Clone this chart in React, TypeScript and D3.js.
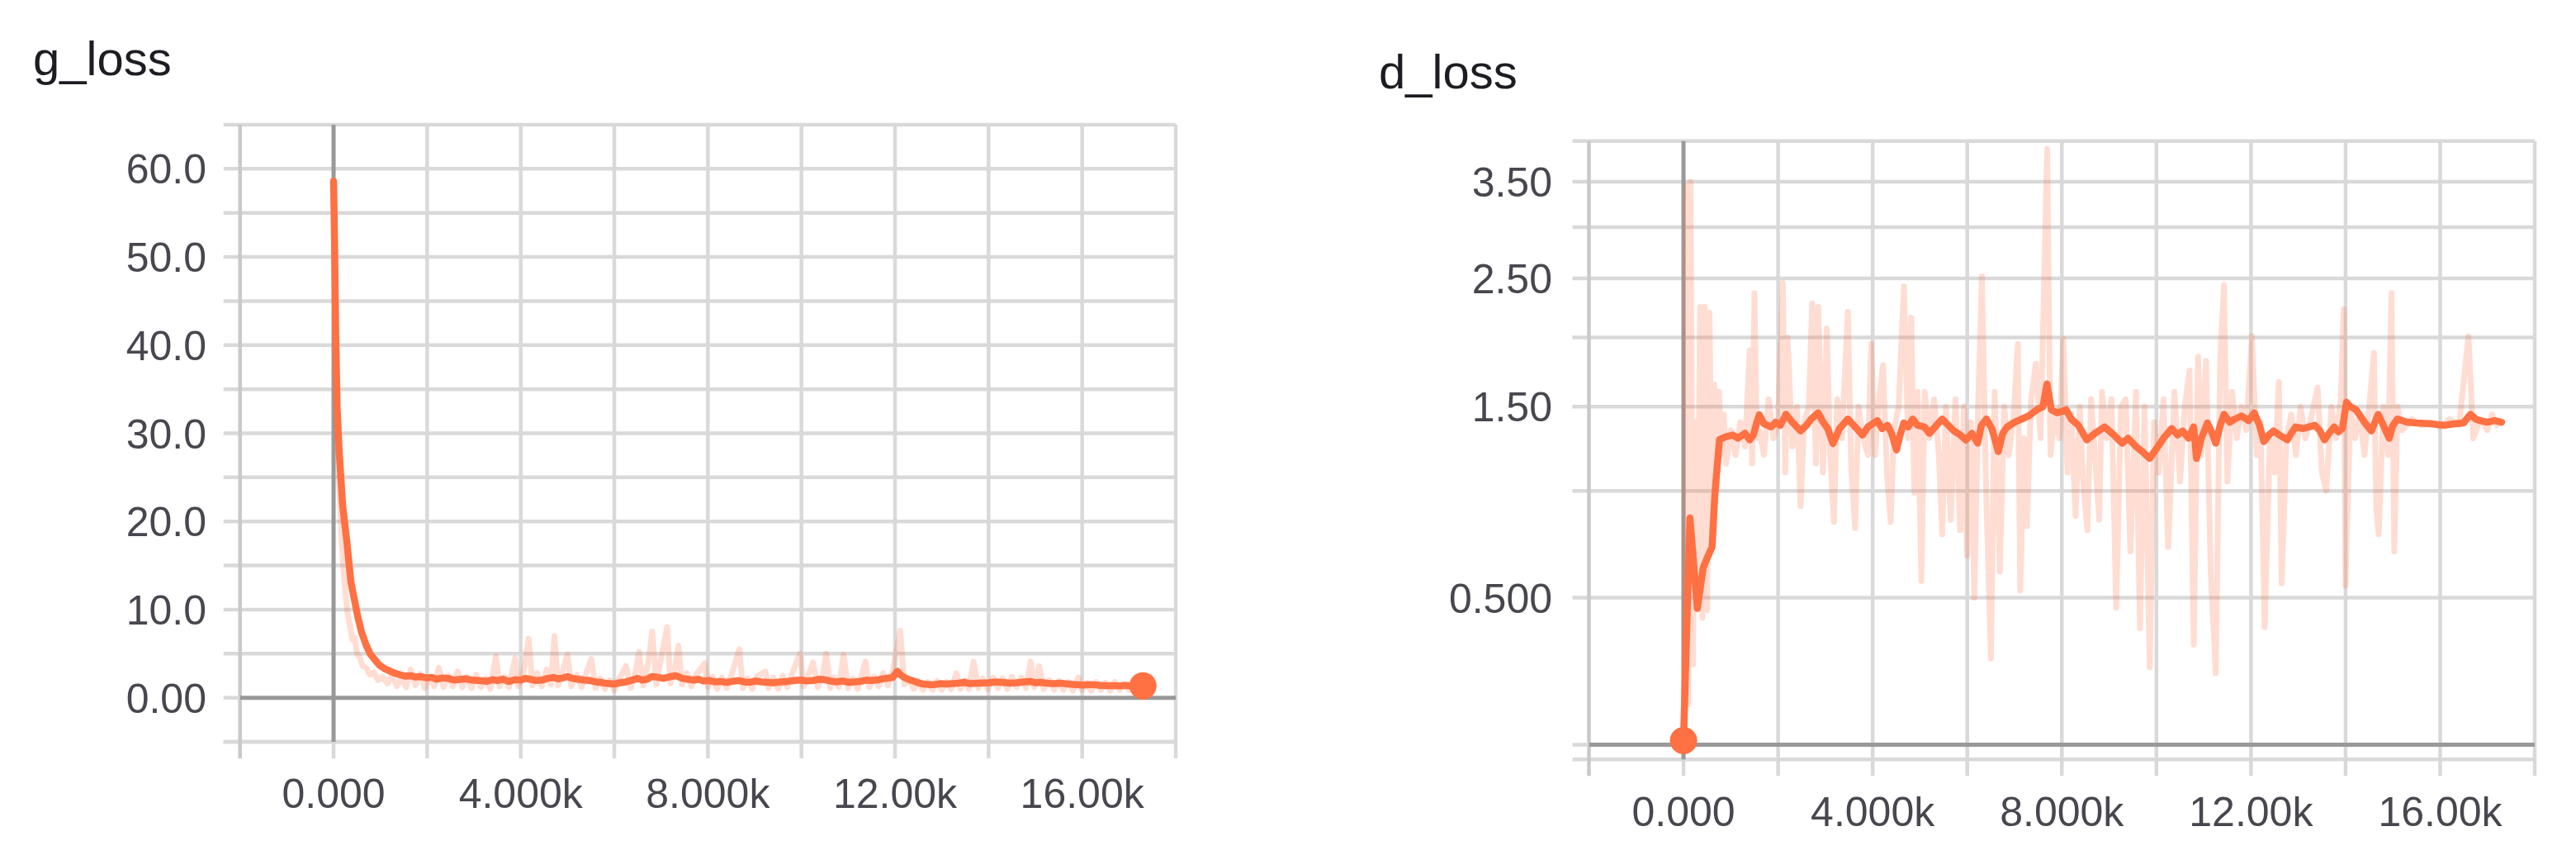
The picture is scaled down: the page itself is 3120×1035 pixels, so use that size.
import React from "react";
import * as d3 from "d3";

// ---------- data ----------
const xGridSteps = [-2000, 0, 2000, 4000, 6000, 8000, 10000, 12000, 14000, 16000, 18000];
const xLabelSteps = [0, 4000, 8000, 12000, 16000];
const xLabelTexts = ["0.000", "4.000k", "8.000k", "12.00k", "16.00k"];

const gGridValues = [-5, 0, 5, 10, 15, 20, 25, 30, 35, 40, 45, 50, 55, 60, 65];
const gLabelValues = [0, 10, 20, 30, 40, 50, 60];
const gLabelTexts = ["0.00", "10.0", "20.0", "30.0", "40.0", "50.0", "60.0"];

const dGridValues = [0, 0.5, 1, 1.5, 2, 2.5, 3, 3.5, 4];
const dLabelValues = [0.5, 1.5, 2.5, 3.5];
const dLabelTexts = ["0.500", "1.50", "2.50", "3.50"];

const gLossSmoothed: [number, number][] = [
  [0, 58.6], [20, 52], [47, 40.7], [77, 32.8], [118, 28.1], [194, 21.8], [282, 17.8], [371, 13.1],
  [450, 11], [517, 9.2], [600, 7.4], [694, 6.0], [780, 5.0], [870, 4.4], [980, 3.7], [1107, 3.25],
  [1300, 2.8], [1518, 2.46], [1650, 2.5], [1750, 2.35], [1870, 2.4], [1989, 2.26], [2100, 2.3],
  [2200, 2.1], [2330, 2.25], [2450, 2.2], [2570, 2.0], [2695, 2.07], [2820, 2.15], [2950, 2.0],
  [3100, 1.95], [3283, 1.87], [3400, 2.05], [3500, 1.95], [3620, 2.1], [3750, 1.85], [3880, 2.05],
  [4000, 2.0], [4100, 2.2], [4200, 2.1], [4330, 1.95], [4450, 2.0], [4580, 2.2], [4700, 2.3],
  [4800, 2.15], [4900, 2.25], [5000, 2.4], [5100, 2.2], [5230, 2.1], [5350, 2.0], [5480, 1.95],
  [5600, 1.8], [5700, 1.75], [5800, 1.65], [5900, 1.6], [6000, 1.56], [6120, 1.7], [6250, 1.8],
  [6380, 2.0], [6500, 2.2], [6600, 2.0], [6700, 2.1], [6800, 2.4], [6900, 2.35], [7050, 2.2],
  [7200, 2.4], [7320, 2.5], [7450, 2.2], [7570, 2.1], [7700, 2.0], [7800, 2.1], [7900, 1.9],
  [8030, 1.95], [8150, 1.8], [8270, 1.85], [8400, 1.75], [8520, 1.85], [8650, 1.95], [8780, 1.8],
  [8900, 1.75], [9020, 1.9], [9150, 1.8], [9280, 1.75], [9400, 1.7], [9550, 1.8], [9700, 1.85],
  [9850, 1.95], [10000, 2.0], [10120, 1.9], [10250, 1.95], [10380, 2.1], [10500, 2.05], [10620, 1.9],
  [10750, 1.8], [10880, 1.9], [11000, 1.75], [11120, 1.8], [11250, 1.85], [11380, 2.0], [11500, 1.95],
  [11650, 2.05], [11800, 2.2], [11950, 2.3], [12050, 3.0], [12120, 2.6], [12200, 2.3], [12300, 2.05],
  [12400, 1.9], [12500, 1.7], [12600, 1.55], [12720, 1.5], [12850, 1.5], [12980, 1.6], [13100, 1.55],
  [13230, 1.6], [13350, 1.65], [13480, 1.75], [13600, 1.6], [13800, 1.65], [14000, 1.7], [14150, 1.8],
  [14300, 1.75], [14450, 1.65], [14600, 1.7], [14750, 1.8], [14900, 1.85], [15000, 1.7],
  [15100, 1.75], [15250, 1.65], [15400, 1.6], [15550, 1.65], [15700, 1.55], [15850, 1.5],
  [16000, 1.45], [16200, 1.5], [16400, 1.4], [16600, 1.38], [16800, 1.35], [16950, 1.4],
  [17100, 1.3], [17300, 1.35],
];

const gLossRaw: [number, number][] = [
  [0, 58.6], [40, 42], [80, 30], [120, 24], [160, 19], [200, 15.5], [250, 12], [300, 9.5], [350, 8.2],
  [400, 6.6], [450, 6.8], [500, 5.0], [560, 4.6], [620, 3.6], [700, 3.4], [780, 2.6], [860, 2.9],
  [950, 2.0], [1050, 2.4], [1150, 1.6], [1250, 2.6], [1350, 1.3], [1450, 2.2], [1550, 1.2], [1650, 3.2],
  [1750, 1.4], [1850, 2.7], [1950, 1.1], [2050, 2.3], [2150, 1.3], [2250, 3.4], [2350, 1.2], [2450, 2.5],
  [2550, 1.3], [2650, 3.0], [2750, 1.2], [2850, 2.4], [2950, 1.1], [3050, 2.6], [3150, 1.2], [3250, 2.2],
  [3350, 1.0], [3470, 4.7], [3550, 1.3], [3650, 2.4], [3750, 1.2], [3880, 4.5], [3950, 1.3], [4050, 2.6],
  [4170, 6.7], [4250, 1.4], [4350, 2.8], [4450, 1.3], [4550, 3.2], [4650, 1.5], [4720, 7.0], [4800, 1.4],
  [4900, 3.1], [5000, 4.9], [5080, 1.3], [5200, 2.6], [5300, 1.2], [5400, 2.8], [5510, 4.4], [5600, 1.1],
  [5700, 2.2], [5800, 1.0], [5900, 2.0], [6000, 0.9], [6100, 2.1], [6250, 3.6], [6350, 1.1], [6450, 2.8],
  [6530, 5.2], [6620, 1.4], [6720, 3.8], [6810, 7.5], [6900, 1.5], [7000, 4.5], [7130, 8.0], [7200, 1.6],
  [7300, 3.5], [7370, 5.9], [7450, 1.5], [7550, 2.8], [7650, 1.3], [7750, 2.6], [7930, 3.9], [8000, 1.2],
  [8100, 2.4], [8200, 1.0], [8300, 2.3], [8400, 1.1], [8500, 2.5], [8670, 5.5], [8750, 1.1], [8850, 2.2],
  [8950, 1.0], [9050, 2.4], [9230, 3.0], [9300, 1.1], [9400, 2.3], [9500, 1.0], [9600, 2.5], [9700, 1.2],
  [9800, 2.7], [9970, 5.0], [10050, 1.3], [10150, 2.6], [10250, 4.0], [10350, 1.2], [10450, 2.5],
  [10530, 5.0], [10620, 1.1], [10700, 2.3], [10800, 1.2], [10900, 4.9], [11000, 1.1], [11100, 2.2],
  [11200, 1.0], [11370, 4.1], [11450, 1.2], [11550, 2.4], [11650, 1.3], [11750, 2.8], [11850, 1.4],
  [11950, 3.0], [12110, 7.6], [12200, 1.5], [12300, 2.2], [12400, 1.0], [12500, 1.9], [12600, 0.9],
  [12700, 1.8], [12800, 0.9], [12900, 1.9], [13000, 0.9], [13100, 1.8], [13200, 1.0], [13310, 2.8],
  [13400, 1.0], [13500, 2.0], [13580, 1.0], [13680, 4.1], [13780, 1.1], [13880, 2.2], [13980, 1.0],
  [14100, 2.3], [14200, 1.1], [14300, 2.2], [14400, 1.0], [14500, 2.4], [14600, 1.2], [14700, 2.3],
  [14800, 1.1], [14900, 4.1], [14980, 1.2], [15080, 3.6], [15180, 1.0], [15300, 2.0], [15400, 0.9],
  [15500, 1.9], [15600, 0.9], [15700, 1.8], [15800, 0.8], [15920, 2.3], [16000, 0.9], [16100, 1.7],
  [16200, 0.8], [16300, 1.8], [16400, 0.9], [16500, 1.7], [16600, 0.8], [16700, 1.8], [16800, 0.9],
  [16900, 1.6], [17000, 0.9], [17100, 1.7], [17200, 1.0], [17300, 1.4],
];

const dLossSmoothed: [number, number][] = [
  [0, 0.012], [136, 0.86], [292, 0.457], [417, 0.628], [520, 0.68], [604, 0.72], [664, 0.987],
  [760, 1.292], [900, 1.31], [1041, 1.32], [1150, 1.3], [1300, 1.33], [1400, 1.29], [1478, 1.32],
  [1550, 1.4], [1602, 1.448], [1700, 1.39], [1852, 1.37], [1950, 1.4], [2050, 1.38], [2165, 1.45],
  [2300, 1.4], [2476, 1.345], [2600, 1.38], [2700, 1.42], [2848, 1.46], [2950, 1.4], [3050, 1.36],
  [3161, 1.268], [3300, 1.36], [3474, 1.42], [3600, 1.38], [3785, 1.32], [3900, 1.37], [4098, 1.41],
  [4200, 1.36], [4315, 1.38], [4400, 1.33], [4504, 1.23], [4580, 1.32], [4658, 1.395], [4750, 1.37],
  [4845, 1.42], [4950, 1.38], [5095, 1.37], [5200, 1.33], [5350, 1.38], [5468, 1.42], [5600, 1.38],
  [5720, 1.345], [5850, 1.32], [5970, 1.29], [6100, 1.33], [6219, 1.27], [6300, 1.38], [6406, 1.42],
  [6520, 1.36], [6656, 1.22], [6750, 1.33], [6843, 1.37], [7000, 1.4], [7155, 1.42], [7300, 1.44],
  [7467, 1.48], [7600, 1.5], [7686, 1.655], [7779, 1.48], [7900, 1.46], [8092, 1.48], [8200, 1.42],
  [8350, 1.38], [8528, 1.29], [8700, 1.33], [8904, 1.37], [9100, 1.32], [9275, 1.27], [9400, 1.3],
  [9567, 1.25], [9700, 1.22], [9857, 1.18], [10032, 1.25], [10150, 1.3], [10323, 1.36], [10450, 1.32],
  [10556, 1.345], [10680, 1.3], [10789, 1.37], [10847, 1.18], [10950, 1.3], [11080, 1.395],
  [11180, 1.33], [11255, 1.27], [11350, 1.38], [11430, 1.45], [11550, 1.4], [11662, 1.42],
  [11800, 1.44], [11950, 1.41], [12069, 1.46], [12180, 1.38], [12274, 1.28], [12380, 1.32],
  [12477, 1.345], [12600, 1.32], [12768, 1.29], [12850, 1.33], [12943, 1.37], [13100, 1.36],
  [13350, 1.38], [13450, 1.35], [13555, 1.29], [13650, 1.33], [13758, 1.37], [13850, 1.34],
  [13933, 1.36], [14020, 1.53], [14100, 1.5], [14224, 1.48], [14400, 1.4], [14545, 1.345],
  [14690, 1.45], [14800, 1.38], [14923, 1.3], [15000, 1.38], [15097, 1.42], [15300, 1.4],
  [15505, 1.395], [15800, 1.39], [16087, 1.38], [16300, 1.39], [16495, 1.395], [16640, 1.45],
  [16750, 1.42], [16843, 1.41], [17000, 1.4], [17150, 1.41], [17300, 1.4],
];

const dLossRaw: [number, number][] = [
  [0, 0.01], [50, 3.45], [100, 0.12], [150, 3.5], [200, 0.25], [250, 1.4], [300, 0.6], [350, 2.25],
  [400, 0.42], [450, 2.25], [500, 0.45], [550, 2.2], [600, 0.9], [650, 1.65], [700, 1.0], [750, 1.6],
  [800, 1.2], [850, 1.45], [900, 1.15], [1000, 1.35], [1100, 1.2], [1200, 1.4], [1300, 1.25], [1400, 1.9],
  [1450, 1.15], [1500, 2.37], [1550, 1.3], [1600, 1.35], [1700, 1.2], [1800, 1.55], [1900, 1.3],
  [2000, 1.4], [2100, 2.46], [2150, 1.1], [2200, 2.0], [2300, 1.25], [2400, 1.5], [2476, 0.92],
  [2550, 1.4], [2650, 1.5], [2720, 2.28], [2800, 1.15], [2850, 2.25], [2950, 1.1], [3030, 2.07],
  [3100, 1.2], [3180, 0.84], [3250, 1.55], [3350, 1.3], [3474, 2.21], [3550, 1.1], [3630, 0.81],
  [3700, 1.5], [3800, 1.3], [3900, 1.2], [3970, 1.95], [4050, 1.2], [4150, 1.6], [4220, 1.79],
  [4300, 1.1], [4380, 0.84], [4450, 1.35], [4550, 1.5], [4660, 2.43], [4750, 1.3], [4815, 2.16],
  [4880, 0.99], [4950, 1.6], [5030, 0.57], [5100, 1.6], [5200, 1.3], [5300, 1.55], [5400, 1.2],
  [5470, 0.78], [5550, 1.5], [5650, 0.85], [5750, 1.55], [5850, 0.8], [5930, 1.5], [5995, 0.68],
  [6080, 1.4], [6150, 0.5], [6230, 1.5], [6310, 2.52], [6400, 1.0], [6500, 0.27], [6580, 1.6],
  [6690, 0.61], [6780, 1.5], [6880, 1.2], [6980, 1.45], [7070, 1.95], [7120, 0.53], [7200, 1.3],
  [7260, 0.82], [7350, 1.55], [7450, 1.8], [7550, 1.3], [7690, 3.9], [7760, 1.2], [7850, 1.45],
  [7950, 1.3], [8030, 1.99], [8120, 1.1], [8200, 1.45], [8290, 0.87], [8380, 1.5], [8450, 1.05],
  [8540, 0.8], [8620, 1.55], [8700, 1.2], [8790, 0.85], [8850, 1.6], [8950, 1.3], [9050, 1.55],
  [9150, 0.46], [9250, 1.5], [9350, 1.55], [9450, 0.7], [9570, 1.6], [9650, 0.38], [9750, 1.5],
  [9860, 0.24], [9950, 1.4], [10050, 1.1], [10150, 1.55], [10250, 0.72], [10380, 1.6], [10500, 1.05],
  [10600, 1.5], [10700, 1.75], [10790, 0.32], [10880, 1.85], [10950, 1.2], [11050, 1.82], [11150, 0.6],
  [11255, 0.22], [11350, 1.85], [11430, 2.44], [11500, 1.05], [11600, 1.6], [11700, 1.3], [11800, 1.5],
  [11900, 1.35], [12020, 2.01], [12120, 1.2], [12200, 1.4], [12290, 0.385], [12400, 1.3], [12500, 1.1],
  [12590, 1.67], [12650, 0.56], [12750, 1.3], [12850, 1.45], [12950, 1.2], [13050, 1.5], [13150, 1.3],
  [13250, 1.4], [13410, 1.63], [13500, 1.1], [13590, 1.0], [13700, 1.5], [13800, 1.3], [13900, 1.55],
  [13960, 2.23], [14000, 0.55], [14100, 1.5], [14200, 1.3], [14300, 1.45], [14400, 1.2], [14500, 1.5],
  [14600, 1.88], [14650, 0.9], [14700, 0.78], [14800, 1.5], [14900, 1.2], [14970, 2.37], [15030, 0.7],
  [15100, 1.5], [15200, 1.35], [15400, 1.42], [15600, 1.38], [15800, 1.4], [16000, 1.37], [16200, 1.42],
  [16400, 1.38], [16600, 2.01], [16700, 1.3], [16850, 1.42], [17000, 1.35], [17100, 1.45], [17200, 1.38],
  [17300, 1.4],
];

// ---------- styles ----------
const ORANGE = "#ff7043";
const GRID = "#d9d9d9";
const EDGE = "#c9c9c9";
const ZERO = "#999999";
const LABEL = "#47474f";
const FONT = "'Liberation Sans', Arial, Helvetica, sans-serif";

interface ChartProps {
  title: string;
  titleX: number;
  titleY: number;
  x: d3.ScaleLinear<number, number>;
  y: any;
  yDomainBottom: number;
  gridValues: number[];
  labelValues: number[];
  labelTexts: string[];
  labelRight: number;
  xLabelBaseline: number;
  raw: [number, number][];
  smooth: [number, number][];
  dotIndex: number;
}

function Chart(p: ChartProps) {
  const { x, y } = p;
  const [left, right] = x.range();
  const bottom = y(p.yDomainBottom);
  const top = y.range()[1];
  const tickLen = 20;
  const line = d3
    .line<[number, number]>()
    .x((d) => x(d[0]))
    .y((d) => y(d[1]))
    .curve(d3.curveLinear);
  const dot = p.smooth[p.dotIndex < 0 ? p.smooth.length - 1 : p.dotIndex];
  const x0 = x(0);
  const y0 = y(0);
  return (
    <g>
      <text x={p.titleX} y={p.titleY} fontSize={58} fill="#1c1c22" fontFamily={FONT}>
        {p.title}
      </text>
      {p.gridValues
        .filter((v) => v !== 0)
        .map((v, i) => (
          <line key={"h" + i} x1={left - tickLen} x2={right} y1={y(v)} y2={y(v)} stroke={GRID} strokeWidth={4.5} />
        ))}
      <line x1={left - tickLen} x2={right} y1={bottom} y2={bottom} stroke={GRID} strokeWidth={4.5} />
      {xGridSteps
        .filter((s) => s !== 0)
        .map((s, i) => (
          <line
            key={"v" + i}
            x1={x(s)}
            x2={x(s)}
            y1={top}
            y2={bottom + tickLen}
            stroke={s === xGridSteps[0] ? EDGE : GRID}
            strokeWidth={4.5}
          />
        ))}
      <line x1={x0} x2={x0} y1={bottom} y2={bottom + tickLen} stroke={GRID} strokeWidth={4.5} />
      <line x1={x0} x2={x0} y1={top} y2={bottom} stroke={ZERO} strokeWidth={5} />
      <line x1={left - tickLen} x2={left} y1={y0} y2={y0} stroke={GRID} strokeWidth={4.5} />
      <line x1={left} x2={right} y1={y0} y2={y0} stroke={ZERO} strokeWidth={5} />
      <path d={line(p.raw) || ""} fill="none" stroke={ORANGE} strokeOpacity={0.24} strokeWidth={7} strokeLinejoin="round" />
      <path d={line(p.smooth) || ""} fill="none" stroke={ORANGE} strokeWidth={8.5} strokeLinejoin="round" strokeLinecap="round" />
      <circle cx={x(dot[0])} cy={y(dot[1])} r={16.5} fill={ORANGE} />
      {p.labelValues.map((v, i) => (
        <text
          key={"yl" + i}
          x={p.labelRight}
          y={y(v)}
          dy="0.36em"
          textAnchor="end"
          fontSize={50}
          fill={LABEL}
          fontFamily={FONT}
        >
          {p.labelTexts[i]}
        </text>
      ))}
      {xLabelSteps.map((s, i) => (
        <text
          key={"xl" + i}
          x={x(s)}
          y={p.xLabelBaseline}
          textAnchor="middle"
          fontSize={50}
          fill={LABEL}
          fontFamily={FONT}
        >
          {xLabelTexts[i]}
        </text>
      ))}
    </g>
  );
}

export default function App() {
  const gx = d3.scaleLinear().domain([-2000, 18000]).range([290.7, 1424]);
  const gy = d3.scaleLinear().domain([-5, 65]).range([898, 151]);
  const dx = d3.scaleLinear().domain([-2000, 18000]).range([1924.5, 3070]);
  const dy = d3.scaleSymlog().constant(10 / 9).domain([-0.042, 4.0]).range([919.3, 170.7]);
  return (
    <svg
      width={3120}
      height={1035}
      style={{ position: "absolute", left: 0, top: 0, background: "#ffffff" }}
    >
      <rect x={0} y={0} width={3120} height={1035} fill="#ffffff" />
      <Chart
        title="g_loss"
        titleX={40}
        titleY={91}
        x={gx}
        y={gy}
        yDomainBottom={-5}
        gridValues={gGridValues}
        labelValues={gLabelValues}
        labelTexts={gLabelTexts}
        labelRight={250}
        xLabelBaseline={978}
        raw={gLossRaw}
        smooth={gLossSmoothed}
        dotIndex={-1}
      />
      <Chart
        title="d_loss"
        titleX={1670}
        titleY={107}
        x={dx}
        y={dy}
        yDomainBottom={-0.042}
        gridValues={dGridValues}
        labelValues={dLabelValues}
        labelTexts={dLabelTexts}
        labelRight={1880}
        xLabelBaseline={1000}
        raw={dLossRaw}
        smooth={dLossSmoothed}
        dotIndex={0}
      />
    </svg>
  );
}
